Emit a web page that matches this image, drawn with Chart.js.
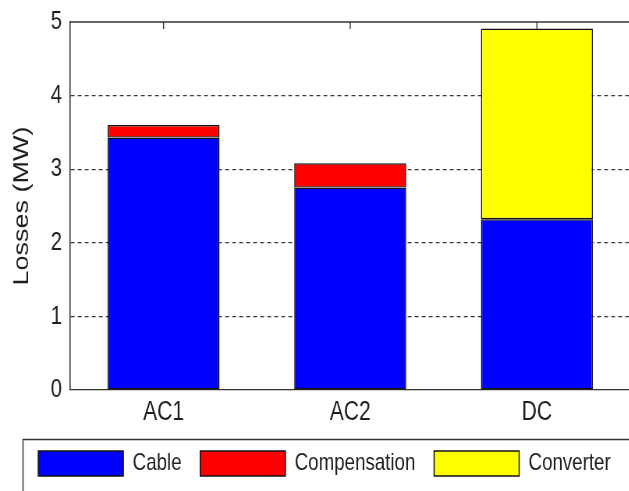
<!DOCTYPE html>
<html>
<head>
<meta charset="utf-8">
<script src="https://cdn.jsdelivr.net/npm/chart.js@4/dist/chart.umd.min.js"></script>
<style>
  html, body { margin: 0; padding: 0; background: #fff; overflow: hidden; width: 629px; height: 491px; }
  #wrap { position: absolute; left: 0; top: 0; width: 825px; height: 491px; transform: scaleX(0.78); transform-origin: 0 0; }
  canvas { display: block; }
</style>
</head>
<body>
<div id="wrap"><canvas id="c" width="825" height="491" style="width:825px;height:491px"></canvas></div>
<script>
// Loss breakdown per transmission option (MW)
const categories = ['AC1', 'AC2', 'DC'];
const cableLosses = [3.43, 2.75, 2.32];
const compensationLosses = [0.17, 0.33, null];
const converterLosses = [null, null, 2.59];
const yTicks = [0, 1, 2, 3, 4, 5];

const FONT = "'Liberation Sans', Arial, sans-serif";
const INK = '#1e1e1e';
const AXIS = '#333333';
const PAD_LEFT = 24;
const PLOT_LEFT = 90;

// Box around the plot (top edge) plus inward tick marks at category centres
const framePlugin = {
  id: 'frame',
  afterDatasetsDraw(chart) {
    const { ctx, chartArea: a, scales } = chart;
    ctx.save();
    ctx.strokeStyle = AXIS;
    ctx.lineWidth = 1.3;
    ctx.beginPath();
    ctx.moveTo(a.left, a.top);
    ctx.lineTo(a.right, a.top);
    ctx.lineTo(a.right, a.bottom);
    ctx.stroke();
    ctx.lineWidth = 1.4;
    categories.forEach((c, i) => {
      const x = scales.x.getPixelForValue(i);
      ctx.beginPath();
      ctx.moveTo(x, a.top);
      ctx.lineTo(x, a.top + 7);
      ctx.stroke();
    });
    ctx.restore();
  },
  afterDraw(chart) {
    const { ctx, legend, width, height } = chart;
    ctx.save();
    ctx.strokeStyle = AXIS;
    ctx.lineWidth = 1.5;
    ctx.strokeRect(29.5, legend.top + 12.5, width, height);
    ctx.restore();
  }
};

const bw = { top: 1.4, bottom: 1.4, left: 1.6, right: 1.6 };

new Chart(document.getElementById('c'), {
  type: 'bar',
  data: {
    labels: categories,
    datasets: [
      { label: 'Cable', data: cableLosses, backgroundColor: '#0000ff', borderColor: '#111', borderWidth: bw, borderSkipped: false },
      { label: 'Compensation', data: compensationLosses, backgroundColor: '#ff0000', borderColor: '#111', borderWidth: bw, borderSkipped: false },
      { label: 'Converter', data: converterLosses, backgroundColor: '#ffff00', borderColor: '#111', borderWidth: bw, borderSkipped: false }
    ]
  },
  options: {
    responsive: false,
    animation: false,
    devicePixelRatio: 1,
    layout: { padding: { left: PAD_LEFT, right: 17, top: 22, bottom: 5 } },
    datasets: { bar: { categoryPercentage: 1.0, barPercentage: 0.6 } },
    plugins: {
      tooltip: { enabled: false },
      legend: {
        position: 'bottom',
        labels: {
          font: { family: FONT, size: 24 },
          color: INK,
          boxWidth: 109,
          boxHeight: 25,
          padding: 24
        }
      }
    },
    scales: {
      x: {
        stacked: true,
        offset: true,
        grid: { display: false, drawTicks: false },
        border: { display: true, color: AXIS, width: 1.3 },
        ticks: { font: { family: FONT, size: 27 }, color: INK, padding: 6 },
        afterFit(scale) { scale.height = 37; }
      },
      y: {
        stacked: true,
        min: 0,
        max: 5,
        afterBuildTicks(scale) { scale.ticks = yTicks.map(v => ({ value: v })); },
        afterFit(scale) {
          scale.width = PLOT_LEFT - PAD_LEFT;
          scale.paddingTop = 0;
          scale.paddingBottom = 0;
        },
        grid: {
          drawTicks: false,
          lineWidth: 1.2,
          color: c => (c.tick && c.tick.value > 0 && c.tick.value < 5) ? '#3a3a3a' : 'rgba(0,0,0,0)'
        },
        border: { display: true, color: AXIS, width: 1.6, dash: [5, 4] },
        ticks: { font: { family: FONT, size: 26 }, color: INK, padding: 10.5 },
        title: {
          display: true,
          text: 'Losses (MW)',
          font: { family: FONT, size: 27 },
          color: INK,
          padding: { top: -12, bottom: 4 }
        }
      }
    }
  },
  plugins: [framePlugin]
});
</script>
</body>
</html>
